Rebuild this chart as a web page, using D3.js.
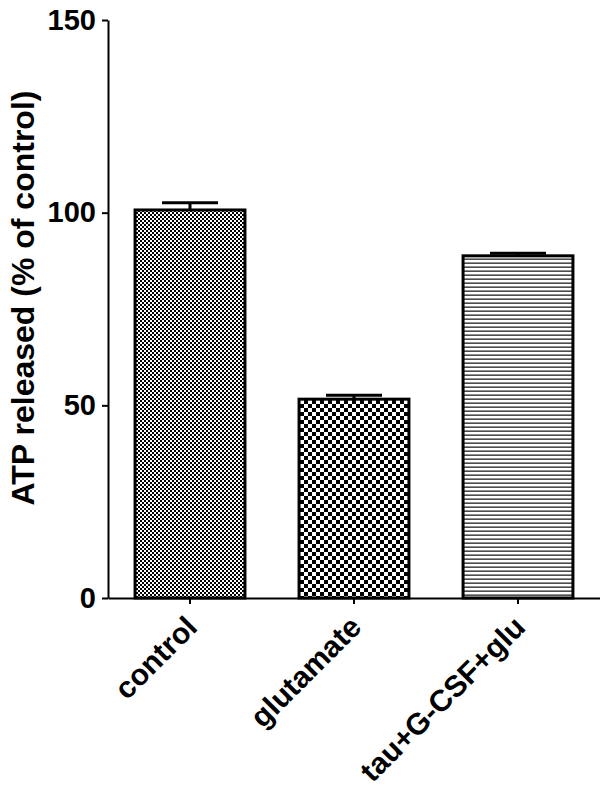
<!DOCTYPE html>
<html>
<head>
<meta charset="utf-8">
<script src="https://cdn.jsdelivr.net/npm/d3@7"></script>
<style>
  html, body { margin: 0; padding: 0; background: #fff; }
  svg { display: block; }
</style>
</head>
<body>
<svg width="600" height="795"></svg>
<script>
const groups = ["control", "glutamate", "tau+G-CSF+glu"];
const means = [100.7, 51.6, 88.8];
const errors = [1.9, 1.0, 0.7];
const patterns = ["fineCheck", "coarseCheck", "hLines"];
const yTicks = [0, 50, 100, 150];

const width = 600;
const height = 795;
const font = "'Liberation Sans', Arial, sans-serif";

const svg = d3.select("svg")
  .attr("width", width)
  .attr("height", height)
  .style("background", "#fff");

// fill patterns
const defs = svg.append("defs");

const p1 = defs.append("pattern").attr("id", "fineCheck")
  .attr("patternUnits", "userSpaceOnUse").attr("width", 4).attr("height", 4);
p1.append("rect").attr("width", 4).attr("height", 4).attr("fill", "#fff");
p1.append("rect").attr("width", 2).attr("height", 2).attr("fill", "#000");
p1.append("rect").attr("x", 2).attr("y", 2).attr("width", 2).attr("height", 2).attr("fill", "#000");

const p2 = defs.append("pattern").attr("id", "coarseCheck")
  .attr("patternUnits", "userSpaceOnUse").attr("width", 8).attr("height", 8);
p2.append("rect").attr("width", 8).attr("height", 8).attr("fill", "#fff");
p2.append("rect").attr("width", 4).attr("height", 4).attr("fill", "#000");
p2.append("rect").attr("x", 4).attr("y", 4).attr("width", 4).attr("height", 4).attr("fill", "#000");

const p3 = defs.append("pattern").attr("id", "hLines")
  .attr("patternUnits", "userSpaceOnUse").attr("width", 8).attr("height", 4);
p3.append("rect").attr("width", 8).attr("height", 4).attr("fill", "#fff");
p3.append("rect").attr("y", 2.5).attr("width", 8).attr("height", 1.3).attr("fill", "#222");

const x = d3.scaleBand()
  .domain(groups)
  .range([108, 600])
  .paddingInner(0.33)
  .paddingOuter(0.165);

const y = d3.scaleLinear()
  .domain([0, 150])
  .range([598, 20]);

// bars
svg.selectAll(".bar")
  .data(groups)
  .join("rect")
  .attr("class", "bar")
  .attr("x", d => x(d))
  .attr("y", (d, i) => y(means[i]))
  .attr("width", x.bandwidth())
  .attr("height", (d, i) => y(0) - y(means[i]))
  .attr("fill", (d, i) => `url(#${patterns[i]})`)
  .attr("stroke", "#000")
  .attr("stroke-width", 3);

// error bars (upper only)
const capW = 56;
const err = svg.selectAll(".err")
  .data(groups)
  .join("g")
  .attr("class", "err");

err.append("line")
  .attr("x1", d => x(d) + x.bandwidth() / 2)
  .attr("x2", d => x(d) + x.bandwidth() / 2)
  .attr("y1", (d, i) => y(means[i]))
  .attr("y2", (d, i) => y(means[i] + errors[i]))
  .attr("stroke", "#000")
  .attr("stroke-width", 3);

err.append("line")
  .attr("x1", d => x(d) + x.bandwidth() / 2 - capW / 2)
  .attr("x2", d => x(d) + x.bandwidth() / 2 + capW / 2)
  .attr("y1", (d, i) => y(means[i] + errors[i]))
  .attr("y2", (d, i) => y(means[i] + errors[i]))
  .attr("stroke", "#000")
  .attr("stroke-width", 3);

// y axis
const yAxis = svg.append("g")
  .attr("transform", "translate(108,0)")
  .call(d3.axisLeft(y).tickValues(yTicks).tickSize(6).tickPadding(6).tickSizeOuter(0));
yAxis.select(".domain").attr("stroke", "#000").attr("stroke-width", 2);
yAxis.selectAll(".tick line").attr("stroke", "#000").attr("stroke-width", 2);
yAxis.selectAll(".tick text")
  .attr("fill", "#000")
  .style("font-family", font)
  .style("font-weight", "bold")
  .style("font-size", "29px");

// x axis
const xAxis = svg.append("g")
  .attr("transform", "translate(0,598)")
  .call(d3.axisBottom(x).tickSize(6).tickSizeOuter(0));
xAxis.select(".domain").attr("stroke", "#000").attr("stroke-width", 2);
xAxis.selectAll(".tick line").attr("stroke", "#000").attr("stroke-width", 2);
xAxis.selectAll(".tick text")
  .attr("fill", "#000")
  .attr("transform", "translate(9,31) rotate(-45)")
  .attr("x", 0)
  .attr("y", 0)
  .attr("dy", 0)
  .style("text-anchor", "end")
  .style("font-family", font)
  .style("font-weight", "bold")
  .style("font-size", "30px");

// y axis title
svg.append("text")
  .attr("transform", "translate(34,298) rotate(-90)")
  .attr("text-anchor", "middle")
  .style("font-family", font)
  .style("font-weight", "bold")
  .style("font-size", "32px")
  .text("ATP released (% of control)");
</script>
</body>
</html>
